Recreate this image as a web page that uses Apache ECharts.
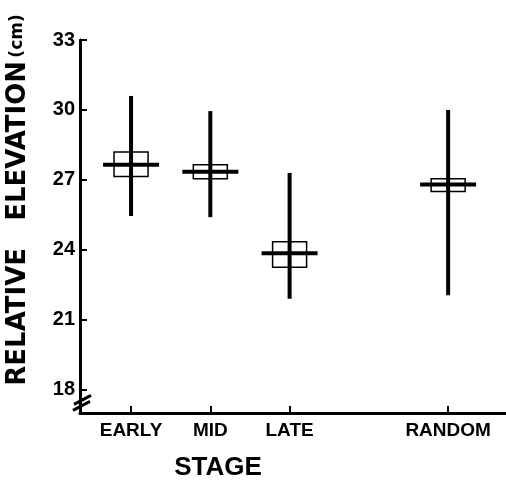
<!DOCTYPE html>
<html>
<head>
<meta charset="utf-8">
<script src="https://cdn.jsdelivr.net/npm/echarts@6/dist/echarts.min.js"></script>
<style>html,body{margin:0;padding:0;background:#fff}#c{width:506px;height:485px}</style>
</head>
<body>
<div id="c"></div>
<script>
const stages = ['EARLY', 'MID', 'LATE', 'RANDOM'];
const stagePos = [1, 2, 3, 5];
const rangeLow = [25.45, 25.4, 21.9, 22.05];
const rangeHigh = [30.6, 29.95, 27.3, 30.0];
const boxLow = [27.15, 27.05, 23.25, 26.5];
const boxHigh = [28.2, 27.65, 24.35, 27.05];
const means = [27.65, 27.35, 23.85, 26.8];
const yTicks = [18, 21, 24, 27, 30, 33];
const yTitle = 'RELATIVE   ELEVATION';
const yUnit = '(cm)';
const xTitle = 'STAGE';

const data = stages.map((s, i) => [stagePos[i], rangeLow[i], rangeHigh[i], boxLow[i], boxHigh[i], means[i]]);

const chart = echarts.init(document.getElementById('c'));
const FONT = 'Liberation Sans';
const TFONT = 'DejaVu Sans';

function renderItem(params, api) {
  const x = api.value(0);
  const pLow = api.coord([x, api.value(1)]);
  const pHigh = api.coord([x, api.value(2)]);
  const pB1 = api.coord([x, api.value(3)]);
  const pB2 = api.coord([x, api.value(4)]);
  const pM = api.coord([x, api.value(5)]);
  const bw = 17, mw = 28;
  return {
    type: 'group',
    children: [
      { type: 'rect', shape: { x: pB2[0] - bw, y: pB2[1], width: 2 * bw, height: pB1[1] - pB2[1] },
        style: { fill: 'none', stroke: '#000', lineWidth: 1.5 } },
      { type: 'line', shape: { x1: pHigh[0], y1: pHigh[1], x2: pLow[0], y2: pLow[1] },
        style: { stroke: '#000', lineWidth: 4 } },
      { type: 'line', shape: { x1: pM[0] - mw, y1: pM[1], x2: pM[0] + mw, y2: pM[1] },
        style: { stroke: '#000', lineWidth: 4 } }
    ]
  };
}

chart.setOption({
  animation: false,
  backgroundColor: '#fff',
  grid: { left: 80, right: 0, top: 40, bottom: 72 },
  xAxis: {
    type: 'value', min: 0.356, max: 5.73,
    splitLine: { show: false },
    axisLine: { show: true, lineStyle: { color: '#000', width: 3 } },
    axisTick: { show: true, inside: true, length: 7, customValues: stagePos, lineStyle: { color: '#000', width: 2 } },
    axisLabel: {
      customValues: stagePos, margin: 8,
      formatter: v => { const i = stagePos.indexOf(v); return i >= 0 ? stages[i] : ''; },
      color: '#000', fontFamily: FONT, fontWeight: 'bold', fontSize: 19
    }
  },
  yAxis: {
    type: 'value', min: 17, max: 33,
    splitLine: { show: false },
    axisLine: { show: true, lineStyle: { color: '#000', width: 3 } },
    axisTick: { show: true, inside: true, length: 7, customValues: yTicks, lineStyle: { color: '#000', width: 2 } },
    axisLabel: { customValues: yTicks, margin: 5, color: '#000', fontFamily: FONT, fontWeight: 'bold', fontSize: 20 }
  },
  series: [{
    type: 'custom',
    renderItem: renderItem,
    data: data,
    encode: { x: 0, y: [1, 2, 3, 4, 5] },
    clip: false
  }]
});

const bp = chart.convertToPixel({ gridIndex: 0 }, [0.356, 17.5]);
chart.setOption({
  graphic: [
    { type: 'text', x: 18, y: 200, rotation: Math.PI / 2,
      style: { text: '{a|' + yTitle + '} {b|' + yUnit + '}', align: 'center', verticalAlign: 'middle',
        rich: { a: { fontFamily: TFONT, fontWeight: 'bold', fontSize: 26, fill: '#000' },
                b: { fontFamily: TFONT, fontWeight: 'bold', fontSize: 17, fill: '#000' } } } },
    { type: 'text', x: 218, y: 468,
      style: { text: xTitle, align: 'center', verticalAlign: 'middle', fontFamily: FONT, fontWeight: 'bold', fontSize: 26, fill: '#000' } },
    { type: 'line', shape: { x1: bp[0] - 6, y1: bp[1] + 3, x2: bp[0] + 11, y2: bp[1] - 6 }, style: { stroke: '#000', lineWidth: 3 } },
    { type: 'line', shape: { x1: bp[0] - 7, y1: bp[1] + 9, x2: bp[0] + 10, y2: bp[1] + 0 }, style: { stroke: '#000', lineWidth: 3 } }
  ]
});
</script>
</body>
</html>
